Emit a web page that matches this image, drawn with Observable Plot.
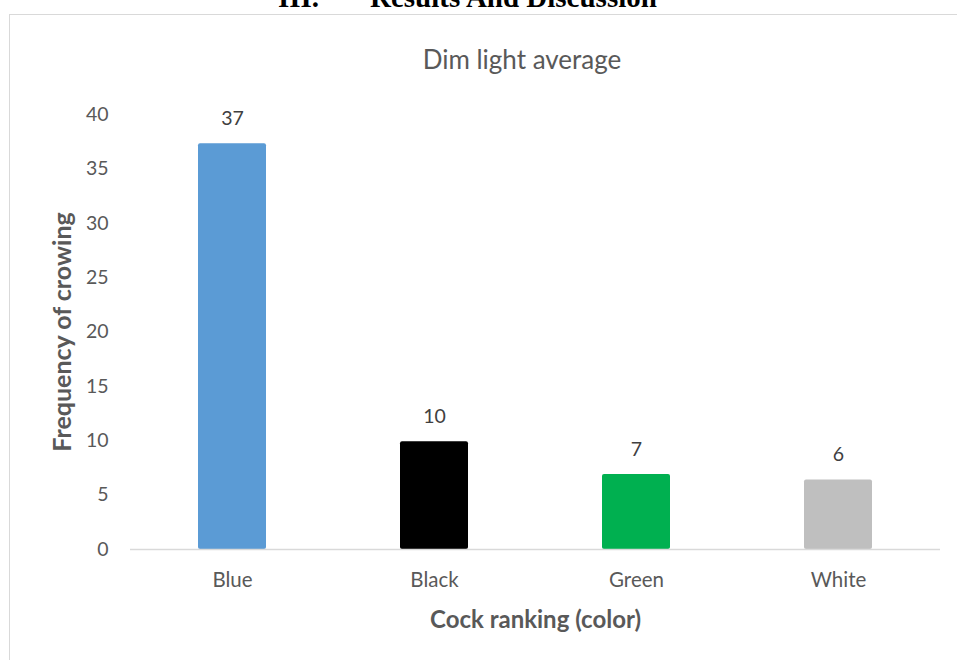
<!DOCTYPE html>
<html>
<head>
<meta charset="utf-8">
<script src="https://cdn.jsdelivr.net/npm/d3@7"></script>
<script src="https://cdn.jsdelivr.net/npm/@observablehq/plot@0.6"></script>
<style>
  html, body { margin: 0; padding: 0; background: #fff; }
  #wrap { position: relative; width: 957px; height: 660px; overflow: hidden; font-family: Lato, "Open Sans", sans-serif; }
  #frame { position: absolute; left: 9px; top: 14px; width: 1000px; height: 700px; border: 1.5px solid #d9d9d9; box-sizing: border-box; }
  #header { position: absolute; left: 0; width: 957px; top: -17px; height: 40px; font-family: "Liberation Serif", serif; font-weight: bold; font-size: 29px; line-height: 29px; color: #000; white-space: pre; }
  #title { position: absolute; left: 0; width: 1044px; top: 43px; text-align: center; font-size: 26px; color: #595959; }
  #chart { position: absolute; left: 0; top: 0; }
</style>
</head>
<body>
<div id="wrap">
  <div id="frame"></div>
  <div id="header"><span style="position:absolute;left:278px">III.</span><span style="position:absolute;left:370px">Results And Discussion</span></div>
  <div id="title">Dim light average</div>
  <div id="chart"></div>
</div>
<script>
const categories = ["Blue", "Black", "Green", "White"];
const values = [37.3, 9.9, 6.9, 6.4];
const valueLabels = ["37", "10", "7", "6"];
const barColors = ["#5b9bd5", "#000000", "#00b050", "#bfbfbf"];
const yTicks = [0, 5, 10, 15, 20, 25, 30, 35, 40];
const xTitle = "Cock ranking (color)";
const yTitle = "Frequency of crowing";

const data = categories.map((c, i) => ({cat: c, value: values[i], label: valueLabels[i], color: barColors[i]}));

const chart = Plot.plot({
  width: 957,
  height: 660,
  marginLeft: 130,
  marginRight: 17,
  marginTop: 114,
  marginBottom: 111,
  style: {fontFamily: "Lato, 'Open Sans', sans-serif", fontSize: "20px", color: "#595959", background: "transparent", overflow: "visible"},
  x: {domain: categories, paddingInner: 0.665, paddingOuter: 0.3325, label: null},
  y: {domain: [0, 40], label: null},
  marks: [
    Plot.barY(data, {x: "cat", y: "value", fill: "color", rx: 2, inset: 0}),
    Plot.ruleY([0], {stroke: "#d9d9d9", strokeWidth: 1.5}),
    Plot.text(data, {x: "cat", y: "value", text: "label", dy: -25, fill: "#404040", fontSize: 19.5}),
    Plot.axisY({ticks: yTicks, tickSize: 0, tickPadding: 22, fontSize: 19.5, label: null, fill: "#595959"}),
    Plot.axisX({tickSize: 0, tickPadding: 23, fontSize: 20.5, label: null, fill: "#595959"}),
    Plot.text([yTitle], {frameAnchor: "left", dx: -68, rotate: -90, textAnchor: "middle", lineAnchor: "middle", text: d => d, fontSize: 25, fontWeight: "bold", fill: "#595959"}),
    Plot.text([xTitle], {frameAnchor: "bottom", dy: 71, textAnchor: "middle", lineAnchor: "middle", text: d => d, fontSize: 24, fontWeight: "bold", fill: "#595959"})
  ]
});
document.getElementById("chart").appendChild(chart);
</script>
</body>
</html>
